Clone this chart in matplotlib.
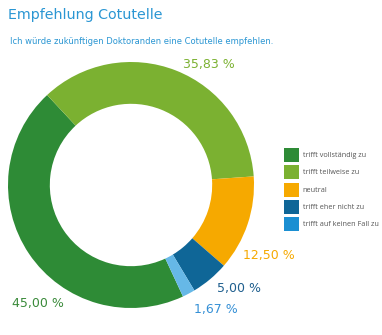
import matplotlib
matplotlib.use("Agg")
from matplotlib import pyplot as plt
from matplotlib.patches import Patch

# Daten
categories = ["trifft vollständig zu", "trifft teilweise zu", "neutral",
              "trifft eher nicht zu", "trifft auf keinen Fall zu"]
values = [45.00, 35.83, 12.50, 5.00, 1.67]
value_labels = ["45,00 %", "35,83 %", "12,50 %", "5,00 %", "1,67 %"]

ring_colors = ["#2e8b36", "#7bb131", "#f6a900", "#0f6697", "#66b8e7"]
legend_colors = ["#2e8b36", "#7bb131", "#f6a900", "#0f6697", "#1b8fd2"]
text_colors = ["#3a8a3a", "#7bb131", "#f6a900", "#1f5f8e", "#3590d6"]
# Position der Beschriftungen (relativ zum Radius)
label_xy = [(-0.76, -0.96), (0.63, 0.98), (1.12, -0.57), (0.88, -0.84), (0.69, -1.01)]

W, H = 382, 335
fig = plt.figure(figsize=(W / 100, H / 100), dpi=100)

cx, cy, r = 131, 185, 123
ax = fig.add_axes([(cx - r) / W, (H - cy - r) / H, 2 * r / W, 2 * r / H])
ax.pie(values, colors=ring_colors, startangle=-65, counterclock=False,
       radius=1.0, wedgeprops=dict(width=0.34, linewidth=0))
ax.set_xlim(-1, 1)
ax.set_ylim(-1, 1)
ax.set_aspect("equal")
ax.axis("off")

for (x, y), lab, c in zip(label_xy, value_labels, text_colors):
    ax.text(x, y, lab, color=c, fontsize=9, ha="center", va="center",
            family="DejaVu Sans", clip_on=False)

blue = "#2a96d3"
fig.text(8 / W, 1 - 15 / H, "Empfehlung Cotutelle", color=blue, fontsize=10.3,
         family="DejaVu Sans", ha="left", va="center")
fig.text(10 / W, 1 - 41 / H, "Ich würde zukünftigen Doktoranden eine Cotutelle empfehlen.",
         color=blue, fontsize=6.0, family="DejaVu Sans", ha="left", va="center")

handles = [Patch(facecolor=c, edgecolor="none") for c in legend_colors]
fig.legend(handles, categories, loc="upper left", bbox_to_anchor=(284 / W, 1 - 148 / H),
           frameon=False, labelcolor="#555555", handlelength=2.08,
           handleheight=2.6, handletextpad=0.5, labelspacing=0.46, borderpad=0,
           borderaxespad=0, prop=dict(family="Open Sans", size=5.2))

fig.savefig("out.png", dpi=100)
